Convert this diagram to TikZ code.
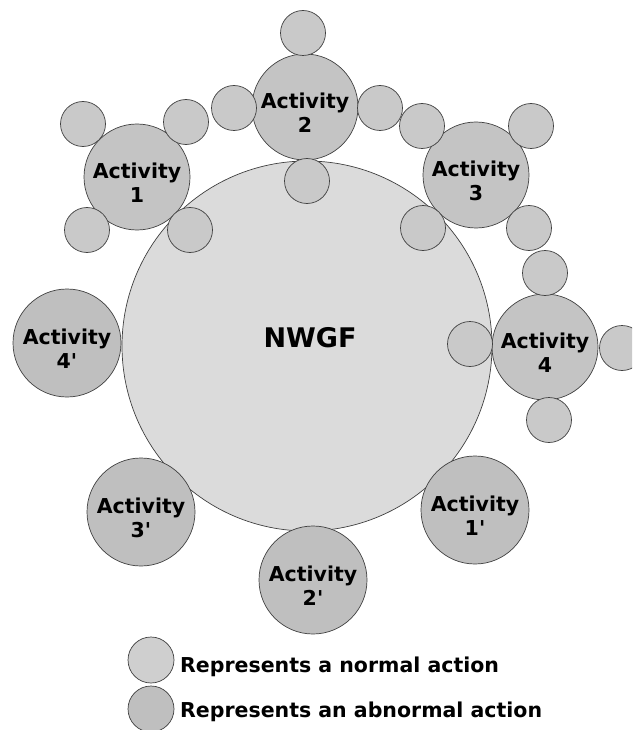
\documentclass[tikz,border=0pt]{standalone}
\usepackage{fontspec}
\setmainfont{DejaVu Sans}
\newcommand{\pr}{\textquotesingle}
\begin{document}
\begin{tikzpicture}[x=1pt,y=-1pt,
  outl/.style={draw=black!75,line width=0.7pt},
  bigc/.style={circle,outl,fill=black!14,minimum size=370pt,inner sep=0pt},
  act/.style={circle,outl,fill=black!23,minimum size=106pt,inner sep=0pt},
  abn/.style={circle,outl,fill=black!25,minimum size=108pt,inner sep=0pt},
  sm/.style={circle,outl,fill=black!21,minimum size=45pt,inner sep=0pt},
  nrm/.style={circle,outl,fill=black!19,minimum size=46pt,inner sep=0pt},
  abl/.style={circle,outl,fill=black!25,minimum size=46pt,inner sep=0pt},
  lbl/.style={font=\bfseries\fontsize{20.5}{24}\selectfont,align=center,inner sep=0pt},
  leg/.style={font=\bfseries\fontsize{20.5}{24}\selectfont,inner sep=0pt,anchor=base west}
]
\useasboundingbox (0,0) rectangle (632,730);
\clip (0,0) rectangle (632,730);
% central circle
\node[bigc] (nwgf) at (307,346) {};
% activities
\node[act] (a1) at (137,177) {};
\node[act] (a2) at (305,107) {};
\node[act] (a3) at (476,175) {};
\node[act] (a4) at (545,347) {};
\node[abn] (a4p) at (67,343) {};
\node[abn] (a3p) at (141,512) {};
\node[abn] (a1p) at (475,510) {};
\node[abn] (a2p) at (313,580) {};
% small circles
\node[sm] (s11) at (83,124) {};
\node[sm] (s12) at (186,122) {};
\node[sm] (s13) at (87,230) {};
\node[sm] (s14) at (190,230) {};
\node[sm] (s21) at (303,33) {};
\node[sm] (s22) at (234,108) {};
\node[sm] (s23) at (380,108) {};
\node[sm] (s24) at (307,181) {};
\node[sm] (s31) at (422,126) {};
\node[sm] (s32) at (531,126) {};
\node[sm] (s33) at (423,228) {};
\node[sm] (s34) at (529,228) {};
\node[sm] (s41) at (545,273) {};
\node[sm] (s42) at (470,344) {};
\node[sm] (s43) at (622,348) {};
\node[sm] (s44) at (549,420) {};
% labels
\node[font=\bfseries\fontsize{27}{30}\selectfont,inner sep=0pt,anchor=base] (tnwgf) at (310,347) {NWGF};
\node[lbl] (t1) at ([yshift=-6pt]a1.center) {Activity\\1};
\node[lbl] (t2) at ([yshift=-6pt]a2.center) {Activity\\2};
\node[lbl] (t3) at ([yshift=-6pt]a3.center) {Activity\\3};
\node[lbl] (t4) at ([yshift=-6pt]a4.center) {Activity\\4};
\node[lbl] (t4p) at ([yshift=-6pt]a4p.center) {Activity\\4\pr};
\node[lbl] (t3p) at ([yshift=-6pt]a3p.center) {Activity\\3\pr};
\node[lbl] (t1p) at ([yshift=-6pt]a1p.center) {Activity\\1\pr};
\node[lbl] (t2p) at ([yshift=-6pt]a2p.center) {Activity\\2\pr};
% legend
\node[nrm] (l1) at (151,660) {};
\node[abl] (l2) at (151,709) {};
\node[leg] (lt1) at (180,672) {Represents a normal action};
\node[leg] (lt2) at (180,717) {Represents an abnormal action};
\end{tikzpicture}
\end{document}
